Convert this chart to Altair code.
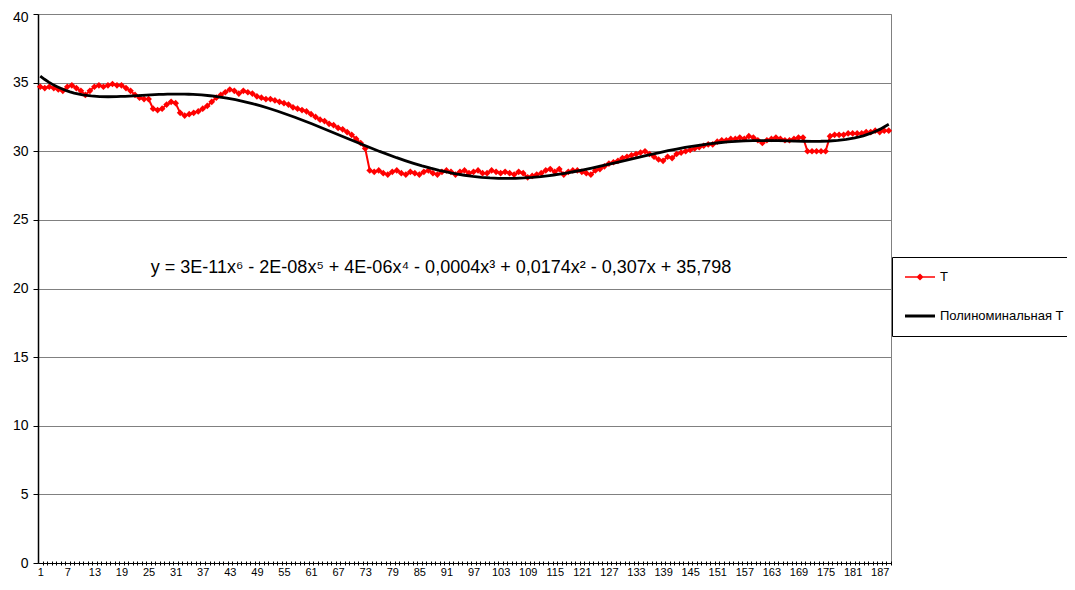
import altair as alt
import pandas as pd

T_VALUES = [
    34.7, 34.6, 34.7, 34.6, 34.5, 34.4, 34.7, 34.8, 34.6, 34.4,
    34.1, 34.4, 34.7, 34.8, 34.7, 34.8, 34.9, 34.8, 34.8, 34.6,
    34.4, 34.1, 33.9, 33.8, 33.8, 33.1, 33.0, 33.1, 33.4, 33.6,
    33.5, 32.8, 32.6, 32.7, 32.8, 32.9, 33.1, 33.3, 33.6, 33.9,
    34.1, 34.3, 34.5, 34.4, 34.2, 34.4, 34.3, 34.2, 34.0, 33.9,
    33.8, 33.8, 33.7, 33.6, 33.5, 33.4, 33.2, 33.1, 33.0, 32.9,
    32.7, 32.5, 32.3, 32.2, 32.0, 31.9, 31.7, 31.6, 31.4, 31.2,
    30.9, 30.6, 30.2, 28.6, 28.5, 28.6, 28.4, 28.3, 28.5, 28.6,
    28.4, 28.3, 28.5, 28.4, 28.3, 28.5, 28.6, 28.4, 28.3, 28.5,
    28.6, 28.5, 28.3, 28.5, 28.6, 28.4, 28.5, 28.6, 28.4, 28.4,
    28.6, 28.5, 28.4, 28.5, 28.4, 28.3, 28.5, 28.4, 28.1, 28.2,
    28.3, 28.4, 28.6, 28.7, 28.5, 28.7, 28.3, 28.5, 28.6, 28.6,
    28.5, 28.4, 28.3, 28.6, 28.7, 28.9, 29.1, 29.2, 29.3, 29.5,
    29.6, 29.7, 29.8, 29.9, 30.0, 29.8, 29.6, 29.4, 29.3, 29.6,
    29.5, 29.8, 29.9, 30.0, 30.1, 30.2, 30.3, 30.4, 30.5, 30.5,
    30.7, 30.8, 30.8, 30.9, 30.9, 31.0, 30.9, 31.1, 31.0, 30.8,
    30.6, 30.8, 30.9, 31.0, 30.9, 30.8, 30.8, 30.9, 31.0, 31.0,
    30.0, 30.0, 30.0, 30.0, 30.0, 31.1, 31.2, 31.2, 31.2, 31.3,
    31.3, 31.3, 31.3, 31.4, 31.4, 31.5, 31.4, 31.5, 31.5,
]
CATEGORIES = list(range(1, len(T_VALUES) + 1))
X_LABELS = list(range(1, len(T_VALUES), 6))          # 1, 7, 13, ..., 187
Y_TICKS = list(range(0, 41, 5))
SERIES = ["Т", "Полиноминальная Т"]
COLORS = ["#ff0000", "#000000"]
EQUATION = "y = 3E-11x⁶ - 2E-08x⁵ + 4E-06x⁴ - 0,0004x³ + 0,0174x² - 0,307x + 35,798"

# legend glyphs: line with diamond for the data series, thick line for the trend
LEGEND_SHAPES = [
    "M-1,-0.05L1,-0.05L1,0.05L-1,0.05ZM0,-0.24L0.24,0L0,0.24L-0.24,0Z",
    "M-1,-0.1L1,-0.1L1,0.1L-1,0.1Z",
]

df = pd.DataFrame({"i": CATEGORIES, "T": T_VALUES})
n = len(CATEGORIES)

boundaries = [k + 0.5 for k in range(1, n + 1)]
x_values = sorted(boundaries + X_LABELS)

x_scale = alt.Scale(domain=[0.5, n + 0.5], nice=False, zero=False)
y_scale = alt.Scale(domain=[0, 40], nice=False, zero=True)
color_scale = alt.Scale(domain=SERIES, range=COLORS)
shape_scale = alt.Scale(domain=SERIES, range=LEGEND_SHAPES)

x_axis = alt.Axis(
    values=x_values,
    tickCount=1000,
    labelExpr="datum.value % 1 === 0 ? format(datum.value, 'd') : ''",
    labelOverlap=False,
    labelFlush=False,
    grid=False,
    domain=False,
    offset=-2,
    tickSize=4,
    tickColor="#000000",
    tickWidth=1,
    tickOpacity={"condition": {"test": "datum.value % 1 === 0", "value": 0}, "value": 1},
    labelFontSize=11,
    labelPadding=1,
    labelColor="#000000",
    title=None,
)
y_axis = alt.Axis(
    values=Y_TICKS,
    grid=True,
    gridColor={"condition": {"test": "datum.value === 0", "value": "#000000"}, "value": "#808080"},
    gridWidth=1,
    domainColor="#000000",
    domainWidth=1.5,
    tickColor="#000000",
    tickSize=5,
    labelFontSize=14,
    labelPadding=5,
    labelOffset={"condition": {"test": "datum.value === 40", "value": 3}, "value": 0},
    labelColor="#000000",
    title=None,
)

legend = alt.Legend(
    orient="none",
    legendX=854,
    legendY=243,
    title=" ",
    titleOrient="bottom",
    titleFontSize=4,
    titlePadding=4,
    direction="vertical",
    padding=5,
    symbolOffset=8,
    labelOffset=5,
    rowPadding=17,
    symbolSize=900,
    symbolOpacity=1,
    symbolStrokeWidth=0,
    strokeColor="#000000",
    fillColor="#ffffff",
    labelFontSize=13,
    labelLimit=400,
    labelColor="#000000",
)

base = alt.Chart(df)

red = base.mark_line(
    color=COLORS[0],
    strokeWidth=2,
    point=alt.OverlayMarkDef(shape="diamond", filled=True, size=45, color=COLORS[0]),
).encode(
    x=alt.X("i:Q", scale=x_scale, axis=x_axis),
    y=alt.Y("T:Q", scale=y_scale, axis=y_axis),
)

trend = base.transform_regression(
    "i", "T", method="poly", order=6
).mark_line(color=COLORS[1], strokeWidth=2.8).encode(
    x=alt.X("i:Q", scale=x_scale),
    y=alt.Y("T:Q", scale=y_scale),
)

# legend carrier: no visible marks, only provides the merged colour/shape legend
legend_layer = alt.Chart(pd.DataFrame({"s": SERIES})).transform_filter(
    "false"
).mark_point(filled=True).encode(
    color=alt.Color("s:N", scale=color_scale, legend=legend),
    shape=alt.Shape("s:N", scale=shape_scale, legend=legend),
)

eq = alt.Chart(pd.DataFrame({"t": [EQUATION]})).mark_text(
    fontSize=18, align="center", baseline="alphabetic", color="#000000"
).encode(
    x=alt.datum(89.8, scale=x_scale),
    y=alt.datum(21.1, scale=y_scale),
    text="t:N",
)

chart = alt.layer(red, trend, eq, legend_layer).properties(
    width=853,
    height=549,
    autosize=alt.AutoSizeParams(type="none"),
    padding={"left": 30, "top": 6, "right": 176, "bottom": 15},
).configure(
    font="Liberation Sans",
).configure_view(
    stroke="#808080",
    strokeWidth=1,
)

chart.save("out.html", embed_options={"renderer": "svg", "actions": False})
